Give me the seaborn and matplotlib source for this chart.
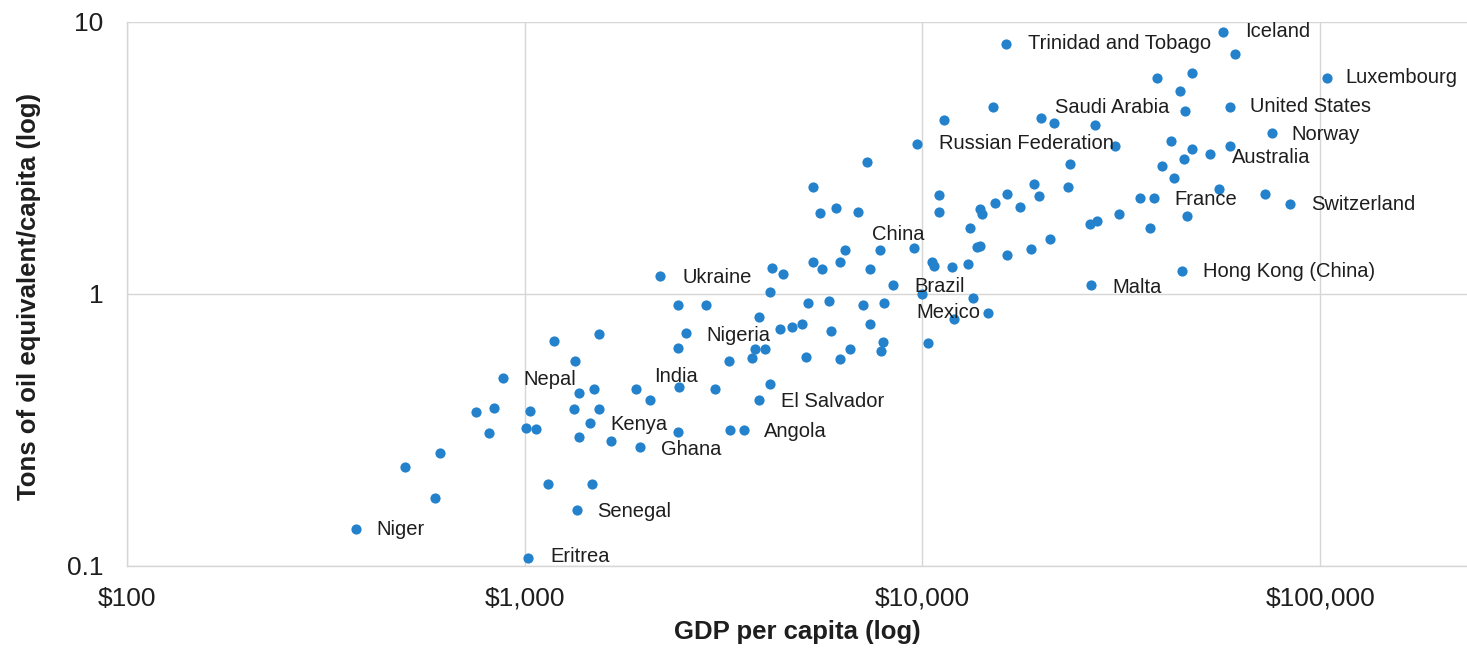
import matplotlib
matplotlib.use("Agg")
import matplotlib.pyplot as plt
import matplotlib.ticker as mticker
import numpy as np
import pandas as pd
import seaborn as sns

# GDP per capita (US$) and primary energy use (tons of oil equivalent per capita)
labeled_countries = [
    "Niger", "Eritrea", "Senegal", "Nepal", "Kenya", "Ghana", "India", "Angola",
    "El Salvador", "Nigeria", "Ukraine", "China", "Brazil", "Mexico", "Malta",
    "Hong Kong (China)", "France", "Switzerland", "Australia",
    "Russian Federation", "Norway", "Saudi Arabia", "United States",
    "Luxembourg", "Trinidad and Tobago", "Iceland",
]
labeled_gdp = [
    376, 1022, 1351, 884, 1459, 1949, 1901, 3556,
    3879, 2543, 2196, 6405, 8441, 11984, 26580,
    44920, 38130, 84070, 52920,
    9698, 75610, 19870, 59410,
    103940, 16262, 57150,
]
labeled_toe = [
    0.137, 0.107, 0.160, 0.491, 0.334, 0.272, 0.447, 0.315,
    0.406, 0.715, 1.162, 1.444, 1.076, 0.805, 1.076,
    1.212, 2.254, 2.132, 3.254,
    3.560, 3.907, 4.415, 4.858,
    6.225, 8.300, 9.165,
]

other_gdp = [
    502, 595, 612, 756, 837, 816, 1035, 1006, 1066, 1147, 1185, 1343, 1369,
    1493, 1330, 1543, 1369, 1479, 1543, 1645, 2433, 3293, 2065, 2442, 3019,
    4134, 2437, 2854, 2437, 3261, 3734, 3805, 4032, 3879, 4398, 4706, 4986,
    5110, 5161, 5830, 5908, 6197, 6566, 7096, 7372, 7993, 7965, 7889, 4134,
    4192, 4467, 5303, 5598, 6197, 7372, 7844, 9508, 10578, 10676, 11874,
    13026, 13409, 14627, 10311, 5303, 5521, 6070, 6892, 7262, 10990, 10990,
    13147, 13722, 13986, 14125, 15255, 9982, 11357, 15018, 61140, 38890,
    47600, 44480, 21466, 27210, 45790, 30530, 42160, 47600, 45600, 59410,
    23550, 40030, 42800, 19040, 19600, 23180, 16330, 17630, 35290, 55530,
    72740, 31130, 46240, 27480, 26430, 37410, 20890, 18760, 16330, 13986,
]
other_toe = [
    0.231, 0.177, 0.259, 0.368, 0.381, 0.308, 0.370, 0.322, 0.317, 0.199,
    0.670, 0.566, 0.433, 0.445, 0.376, 0.376, 0.297, 0.199, 0.713, 0.287,
    0.310, 0.315, 0.407, 0.454, 0.447, 0.467, 0.909, 0.909, 0.633, 0.566,
    0.582, 0.625, 0.625, 0.823, 0.744, 0.756, 0.772, 0.587, 0.922, 0.940,
    0.729, 0.574, 0.625, 0.909, 0.776, 0.922, 0.666, 0.616, 1.015, 1.240,
    1.184, 1.308, 1.229, 1.308, 1.236, 1.448, 1.469, 1.308, 1.264, 1.254,
    1.283, 0.967, 0.851, 0.660, 2.474, 1.985, 2.071, 1.997, 3.050, 2.300,
    1.997, 1.740, 1.489, 2.043, 1.958, 2.161, 1.000, 4.341, 4.858, 7.588,
    6.225, 6.494, 5.563, 4.253, 4.160, 4.696, 3.491, 3.642, 3.395, 3.135,
    3.491, 2.990, 2.948, 2.670, 2.525, 2.287, 2.474, 2.331, 2.084, 2.254,
    2.420, 2.331, 1.968, 1.931, 1.851, 1.808, 1.740, 1.585, 1.464, 1.388,
    1.497,
]

x_ticks = [100, 1000, 10000, 100000]
x_tick_labels = ["$100", "$1,000", "$10,000", "$100,000"]
y_ticks = [0.1, 1, 10]
y_tick_labels = ["0.1", "1", "10"]

# Where each country name sits relative to its dot (pixels: right, up)
label_offsets = {
    "Niger": (21, -1), "Eritrea": (22, 1), "Senegal": (21, -1),
    "Nepal": (20, -2), "Kenya": (21, -1), "Ghana": (21, -2),
    "India": (19, 12), "Angola": (20, -1), "El Salvador": (22, -1),
    "Nigeria": (21, -2), "Ukraine": (22, -2), "China": (27, 16),
    "Brazil": (21, -1), "Mexico": (-37, 7), "Malta": (21, -2),
    "Hong Kong (China)": (21, -1), "France": (21, -2),
    "Switzerland": (21, 0), "Australia": (22, -3),
    "Russian Federation": (22, 0), "Norway": (20, -2),
    "Saudi Arabia": (14, 11), "United States": (20, 0),
    "Luxembourg": (19, 0), "Trinidad and Tobago": (22, 0),
    "Iceland": (22, 0),
}

df = pd.DataFrame({
    "country": labeled_countries + [""] * len(other_gdp),
    "gdp": labeled_gdp + other_gdp,
    "toe": labeled_toe + other_toe,
})

sns.set_theme(style="white")
plt.rcParams["font.family"] = ["Liberation Sans", "DejaVu Sans"]

DOT = "#2482cd"
GRID = "#d6d6d6"
INK = "#1e1e1e"

fig = plt.figure(figsize=(14.67, 6.53), dpi=100)
ax = fig.add_axes([0.0864, 0.1337, 0.9136, 0.8331])

sns.scatterplot(data=df, x="gdp", y="toe", ax=ax, s=54, color=DOT,
                linewidth=0, zorder=3, legend=False)

ax.set_xscale("log")
ax.set_yscale("log")
ax.set_xlim(100, 234000)
ax.set_ylim(0.1, 10)

ax.xaxis.set_major_locator(mticker.FixedLocator(x_ticks))
ax.xaxis.set_major_formatter(mticker.FixedFormatter(x_tick_labels))
ax.xaxis.set_minor_locator(mticker.NullLocator())
ax.yaxis.set_major_locator(mticker.FixedLocator(y_ticks))
ax.yaxis.set_major_formatter(mticker.FixedFormatter(y_tick_labels))
ax.yaxis.set_minor_locator(mticker.NullLocator())

ax.grid(True, which="major", color=GRID, linewidth=1.0, zorder=0)
ax.set_axisbelow(True)
for side in ("top", "right"):
    ax.spines[side].set_visible(False)
for side in ("left", "bottom"):
    ax.spines[side].set_color(GRID)
    ax.spines[side].set_linewidth(1.0)

ax.tick_params(axis="x", length=0, pad=15, labelsize=19, labelcolor=INK)
ax.tick_params(axis="y", length=0, pad=17, labelsize=19, labelcolor=INK)

ax.set_xlabel("GDP per capita (log)", fontsize=18.5, fontweight="bold",
              color=INK)
ax.set_ylabel("Tons of oil equivalent/capita (log)", fontsize=18.5,
              fontweight="bold", color=INK)
ax.xaxis.set_label_coords(0.5, -0.099)
ax.yaxis.set_label_coords(-0.064, 0.494)

for name, gx, ty in zip(labeled_countries, labeled_gdp, labeled_toe):
    dx, dy = label_offsets[name]
    ax.annotate(name, xy=(gx, ty), xytext=(dx, dy),
                textcoords="offset pixels", ha="left", va="center",
                fontsize=14.5, color=INK, zorder=4)

fig.savefig("out.png", dpi=100)
